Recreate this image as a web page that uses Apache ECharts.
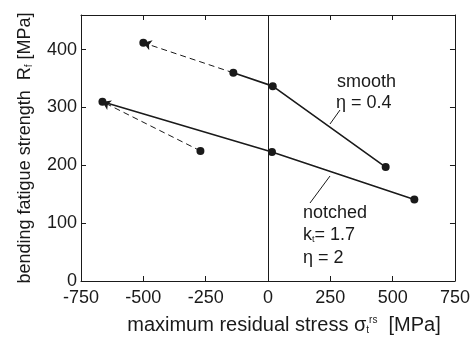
<!DOCTYPE html>
<html><head><meta charset="utf-8">
<script src="https://cdn.jsdelivr.net/npm/echarts@6/dist/echarts.min.js"></script>
<style>html,body{margin:0;padding:0;background:#fff}#c{width:473px;height:340px}</style>
</head><body><div id="c"></div>
<script>
// x ticks and y ticks
const xTicks = [-750, -500, -250, 0, 250, 500, 750];
const yTicks = [0, 100, 200, 300, 400];
// smooth specimens (solid line)
const smoothX = [-139, 19, 472];
const smoothY = [360, 337, 197];
// smooth: dashed arrow from -> to
const smoothArrowFrom = [-139, 360];
const smoothArrowTo = [-500, 412];
// notched specimens (solid line)
const notchedX = [-664, 16, 587];
const notchedY = [310, 223, 141];
// notched: dashed arrow from -> to
const notchedArrowFrom = [-271, 225];
const notchedArrowTo = [-664, 310];

const FONT = 'Liberation Sans, Arial, sans-serif';
const INK = '#1a1a1a';
const chart = echarts.init(document.getElementById('c'), null, {renderer: 'canvas'});

const pts = (xs, ys) => xs.map((x, i) => [x, ys[i]]);
const rich = {
  sub: {fontSize: 10, fontFamily: FONT, color: INK, verticalAlign: 'bottom', padding: [8, 0, 0, 0]},
  sup: {fontSize: 10, fontFamily: FONT, color: INK, verticalAlign: 'top', padding: [0, 0, 8, 0]}
};
const axLine = {show: true, onZero: false, lineStyle: {color: INK, width: 1}};
const axTick = {show: true, inside: true, length: 5, lineStyle: {color: INK}};

chart.setOption({
  animation: false,
  backgroundColor: '#fff',
  grid: {left: 81, right: 13, top: 15, bottom: 57},
  xAxis: [{
    type: 'value', min: xTicks[0], max: xTicks[xTicks.length - 1], interval: 250,
    position: 'bottom', axisLine: axLine, axisTick: axTick,
    splitLine: {show: false},
    axisLabel: {color: INK, fontSize: 18, fontFamily: FONT, margin: 8},
    name: 'maximum residual stress σ{sub|t}{sup|rs}  [MPa]',
    nameLocation: 'middle', nameGap: 34,
    nameTextStyle: {color: INK, fontSize: 20, fontFamily: FONT, rich: rich, padding: [0, 0, 0, 32]}
  }, {
    type: 'value', min: xTicks[0], max: xTicks[xTicks.length - 1], interval: 250,
    position: 'top', axisLine: axLine, axisTick: axTick,
    splitLine: {show: false}, axisLabel: {show: false}
  }],
  yAxis: [{
    type: 'value', min: 0, max: 460, interval: 100,
    position: 'left', axisLine: axLine, axisTick: axTick,
    splitLine: {show: false},
    axisLabel: {color: INK, fontSize: 18, fontFamily: FONT, margin: 4, showMaxLabel: false,
      formatter: v => (yTicks.indexOf(v) >= 0 ? String(v) : '')},
    name: 'bending fatigue strength  R{sub|f} [MPa]',
    nameLocation: 'middle', nameGap: 47,
    nameTextStyle: {color: INK, fontSize: 18, fontFamily: FONT, rich: rich}
  }, {
    type: 'value', min: 0, max: 460, interval: 100,
    position: 'right', axisLine: axLine, axisTick: axTick,
    splitLine: {show: false}, axisLabel: {show: false}
  }],
  series: [{
    type: 'line', data: pts(smoothX, smoothY),
    symbol: 'circle', symbolSize: 8,
    lineStyle: {color: INK, width: 1.6}, itemStyle: {color: INK},
    markLine: {
      silent: true, symbol: ['none', 'none'], label: {show: false},
      lineStyle: {color: INK, width: 1, type: 'solid'},
      data: [{xAxis: 0}]
    }
  }, {
    type: 'line', data: pts(notchedX, notchedY),
    symbol: 'circle', symbolSize: 8,
    lineStyle: {color: INK, width: 1.6}, itemStyle: {color: INK}
  }, {
    type: 'scatter', data: [smoothArrowTo, notchedArrowFrom],
    symbol: 'circle', symbolSize: 8, itemStyle: {color: INK, opacity: 1}
  }, {
    type: 'lines', coordinateSystem: 'cartesian2d',
    symbol: ['none', 'arrow'], symbolSize: [0, 8],
    lineStyle: {color: INK, width: 1, type: [6, 4], opacity: 1},
    data: [
      {coords: [smoothArrowFrom, smoothArrowTo]},
      {coords: [notchedArrowFrom, notchedArrowTo]}
    ]
  }],
  graphic: [
    {type: 'text', left: 337, top: 73, style: {text: 'smooth', font: '18px ' + FONT, fill: INK}},
    {type: 'text', left: 336, top: 94, style: {text: 'η = 0.4', font: '18px ' + FONT, fill: INK}},
    {type: 'line', shape: {x1: 340, y1: 110, x2: 330, y2: 124}, style: {stroke: INK, lineWidth: 1}},
    {type: 'text', left: 303, top: 204, style: {text: 'notched', font: '18px ' + FONT, fill: INK}},
    {type: 'text', left: 303, top: 226, style: {
      text: 'k{s|t}= 1.7', font: '18px ' + FONT, fill: INK,
      rich: {s: {fontSize: 9, fontFamily: FONT, fill: INK, verticalAlign: 'bottom', padding: [8, 0, 0, 0]}}}},
    {type: 'text', left: 303, top: 249, style: {text: 'η = 2', font: '18px ' + FONT, fill: INK}},
    {type: 'line', shape: {x1: 330, y1: 176, x2: 310, y2: 203}, style: {stroke: INK, lineWidth: 1}}
  ]
});
</script></body></html>
